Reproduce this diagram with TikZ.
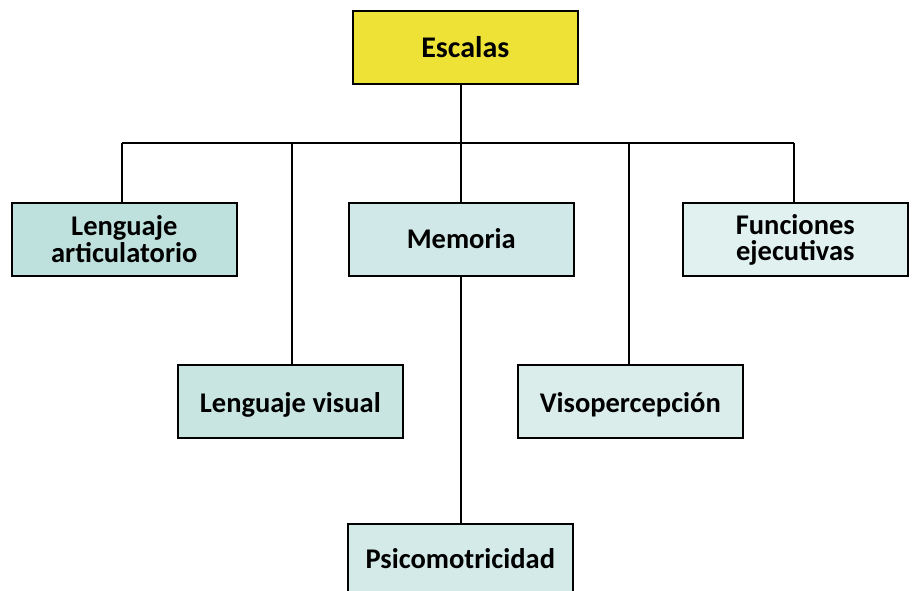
\documentclass[tikz,border=0pt]{standalone}
\usepackage{fontspec}
\setmainfont{Carlito}
\usetikzlibrary{calc}
\begin{document}
\begin{tikzpicture}[x=1pt,y=-1pt,
  box/.style={draw=black, line width=1.6pt, minimum width=225pt, minimum height=73pt,
    inner sep=0pt, anchor=north west},
  lbl/.style={font=\bfseries\fontsize{28.5}{27}\selectfont, align=center, inner sep=0pt},
  link/.style={line width=1.6pt}]
\useasboundingbox (0,0) rectangle (914,591);
\clip (0,0) rectangle (914,591);
\definecolor{cEsc}{HTML}{EFE236}
\definecolor{cLA}{HTML}{BFE1DE}
\definecolor{cMem}{HTML}{D0E8E7}
\definecolor{cFE}{HTML}{E0F1EF}
\definecolor{cLV}{HTML}{C8E5E2}
\definecolor{cVis}{HTML}{DAEDEB}
\definecolor{cPsi}{HTML}{D3EAE9}
\node[box, fill=cEsc] (esc) at (352,10) {};
\node[box, fill=cLA] (la) at (11,202) {};
\node[box, fill=cMem] (mem) at (348,202) {};
\node[box, fill=cFE] (fe) at (682,202) {};
\node[box, fill=cLV] (lv) at (177,364) {};
\node[box, fill=cVis] (vis) at (517,364) {};
\node[box, fill=cPsi, minimum height=100pt] (psi) at (347,523) {};
\node[lbl, font=\bfseries\fontsize{30}{30}\selectfont, anchor=base] (tesc) at ($(esc.north)+(0,48)$) {Escalas};
\node[lbl, anchor=base] (tla) at ($(la.north)+(0,60)$) {Lenguaje\\articulatorio};
\node[lbl, anchor=base] (tmem) at ($(mem.north)+(0,46)$) {Memoria};
\node[lbl, anchor=base] (tfe) at ($(fe.north)+(0,59)$) {Funciones\\ejecutivas};
\node[lbl, anchor=base] (tlv) at ($(lv.north)+(0,48)$) {Lenguaje visual};
\node[lbl, anchor=base] (tvis) at ($(vis.north)+(0,48)$) {Visopercepción};
\node[lbl, anchor=base] (tpsi) at ($(psi.north)+(0,45)$) {Psicomotricidad};
\coordinate (b1) at (122,143);
\coordinate (b2) at (292,143);
\coordinate (b3) at (461,143);
\coordinate (b4) at (629,143);
\coordinate (b5) at (794,143);
\draw[link] (esc.south -| b3) -- (b3);
\draw[link] (b1) -- (b5);
\draw[link] (b1) -- (la.north -| b1);
\draw[link] (b2) -- (lv.north -| b2);
\draw[link] (b3) -- (mem.north -| b3);
\draw[link] (b4) -- (vis.north -| b4);
\draw[link] (b5) -- (fe.north -| b5);
\draw[link] (mem.south -| b3) -- (psi.north -| b3);
\end{tikzpicture}
\end{document}
